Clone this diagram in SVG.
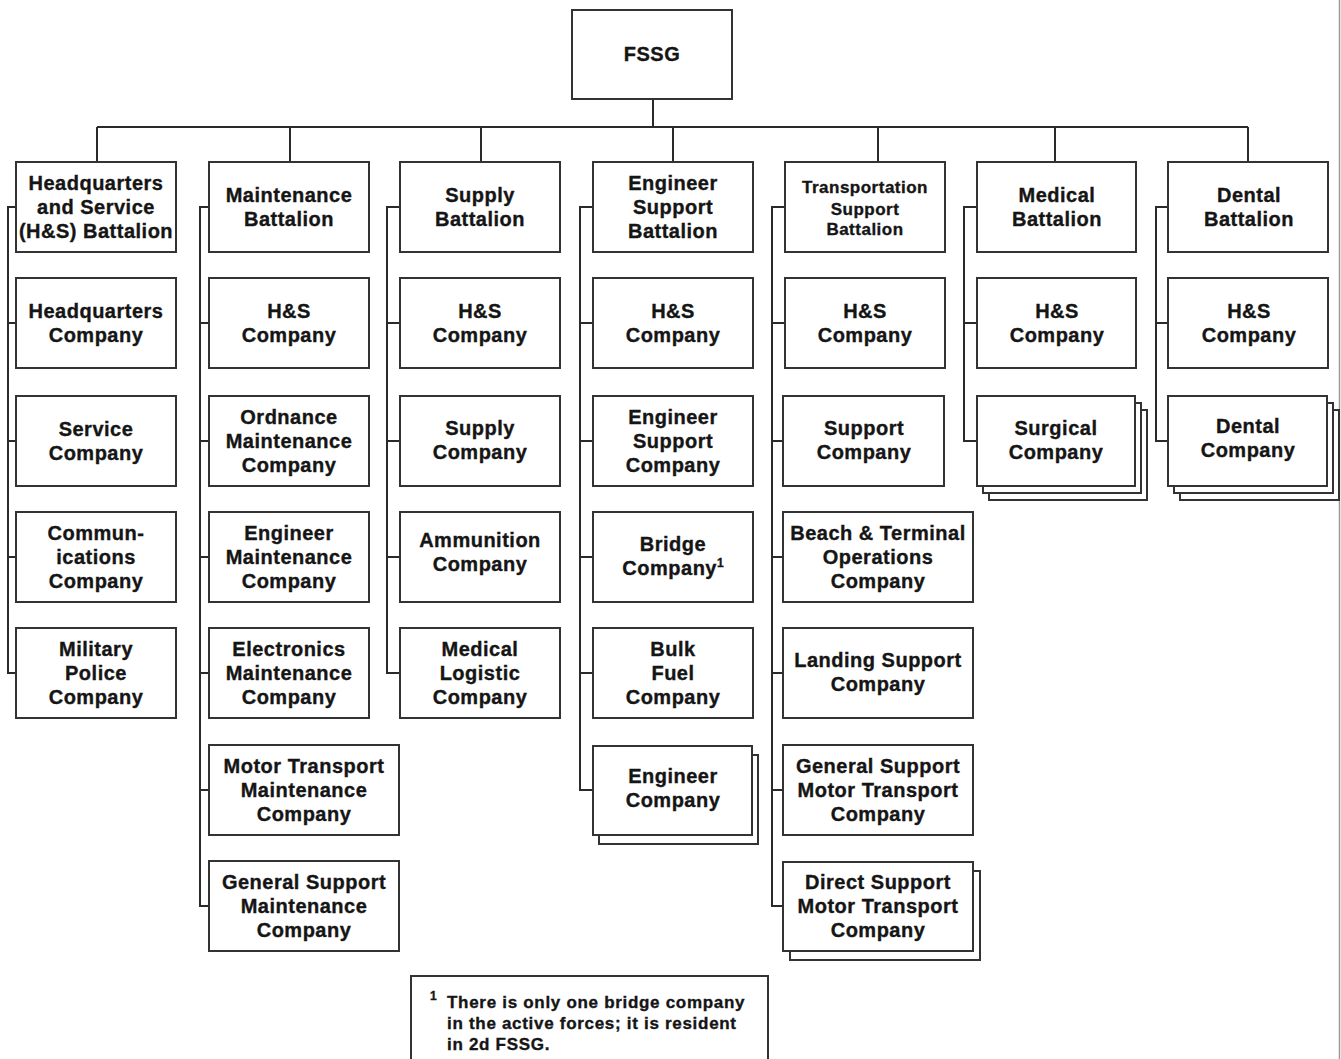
<svg xmlns="http://www.w3.org/2000/svg" width="1341" height="1059" viewBox="0 0 1341 1059">
<style>
.b{fill:#fff;stroke:#333;stroke-width:2}
.c{fill:none;stroke:#2a2a2a;stroke-width:2}
text{font-family:"Liberation Sans",Arial,sans-serif;font-weight:bold;font-size:20px;letter-spacing:0.5px;fill:#151515;stroke:#151515;stroke-width:0.35px;text-anchor:middle}
.s{font-size:17px}
.f{font-size:17px;text-anchor:start;letter-spacing:0.7px}
.sup{font-size:12px;letter-spacing:0}
</style>
<rect width="1341" height="1059" fill="#fff"/>
<line x1="1339.5" y1="0" x2="1339.5" y2="1059" stroke="#999" stroke-width="1.5"/>
<g id="connectors">
<path class="c" d="M653 99V127M97 127H1248M97 127V162M290 127V162M481 127V162M673 127V162M878 127V162M1055 127V162M1248 127V162"/>
<path class="c" d="M16 207H8V673H16M8 323H16M8 441H16M8 557H16"/>
<path class="c" d="M209 207H200V906H209M200 323H209M200 441H209M200 557H209M200 673H209M200 790H209"/>
<path class="c" d="M400 207H387V673H400M387 323H400M387 441H400M387 557H400"/>
<path class="c" d="M593 207H580V790H593M580 323H593M580 441H593M580 557H593M580 673H593"/>
<path class="c" d="M785 207H772V906H783M772 323H785M772 441H783M772 557H783M772 673H783M772 790H783"/>
<path class="c" d="M977 207H964V441H977M964 323H977"/>
<path class="c" d="M1168 207H1156V441H1168M1156 323H1168"/>
</g>
<g id="fssg"><rect class="b" x="572" y="10" width="160" height="89"/><text x="652" y="61">FSSG</text></g>

<g id="hs_bn"><rect class="b" x="16" y="162" width="160" height="90"/><text x="96" y="190">Headquarters</text><text x="96" y="214">and Service</text><text x="96" y="238">(H&amp;S) Battalion</text></g>
<g id="hq_co"><rect class="b" x="16" y="278" width="160" height="90"/><text x="96" y="318">Headquarters</text><text x="96" y="342">Company</text></g>
<g id="svc_co"><rect class="b" x="16" y="396" width="160" height="90"/><text x="96" y="436">Service</text><text x="96" y="460">Company</text></g>
<g id="comm_co"><rect class="b" x="16" y="512" width="160" height="90"/><text x="96" y="540">Commun-</text><text x="96" y="564">ications</text><text x="96" y="588">Company</text></g>
<g id="mp_co"><rect class="b" x="16" y="628" width="160" height="90"/><text x="96" y="656">Military</text><text x="96" y="680">Police</text><text x="96" y="704">Company</text></g>

<g id="maint_bn"><rect class="b" x="209" y="162" width="160" height="90"/><text x="289" y="202">Maintenance</text><text x="289" y="226">Battalion</text></g>
<g id="maint_hs"><rect class="b" x="209" y="278" width="160" height="90"/><text x="289" y="318">H&amp;S</text><text x="289" y="342">Company</text></g>
<g id="ord_co"><rect class="b" x="209" y="396" width="160" height="90"/><text x="289" y="424">Ordnance</text><text x="289" y="448">Maintenance</text><text x="289" y="472">Company</text></g>
<g id="engm_co"><rect class="b" x="209" y="512" width="160" height="90"/><text x="289" y="540">Engineer</text><text x="289" y="564">Maintenance</text><text x="289" y="588">Company</text></g>
<g id="elec_co"><rect class="b" x="209" y="628" width="160" height="90"/><text x="289" y="656">Electronics</text><text x="289" y="680">Maintenance</text><text x="289" y="704">Company</text></g>
<g id="mtm_co"><rect class="b" x="209" y="745" width="190" height="90"/><text x="304" y="773">Motor Transport</text><text x="304" y="797">Maintenance</text><text x="304" y="821">Company</text></g>
<g id="gsm_co"><rect class="b" x="209" y="861" width="190" height="90"/><text x="304" y="889">General Support</text><text x="304" y="913">Maintenance</text><text x="304" y="937">Company</text></g>

<g id="sup_bn"><rect class="b" x="400" y="162" width="160" height="90"/><text x="480" y="202">Supply</text><text x="480" y="226">Battalion</text></g>
<g id="sup_hs"><rect class="b" x="400" y="278" width="160" height="90"/><text x="480" y="318">H&amp;S</text><text x="480" y="342">Company</text></g>
<g id="sup_co"><rect class="b" x="400" y="396" width="160" height="90"/><text x="480" y="435">Supply</text><text x="480" y="459">Company</text></g>
<g id="ammo_co"><rect class="b" x="400" y="512" width="160" height="90"/><text x="480" y="547">Ammunition</text><text x="480" y="571">Company</text></g>
<g id="medlog_co"><rect class="b" x="400" y="628" width="160" height="90"/><text x="480" y="656">Medical</text><text x="480" y="680">Logistic</text><text x="480" y="704">Company</text></g>

<g id="esb"><rect class="b" x="593" y="162" width="160" height="90"/><text x="673" y="190">Engineer</text><text x="673" y="214">Support</text><text x="673" y="238">Battalion</text></g>
<g id="esb_hs"><rect class="b" x="593" y="278" width="160" height="90"/><text x="673" y="318">H&amp;S</text><text x="673" y="342">Company</text></g>
<g id="es_co"><rect class="b" x="593" y="396" width="160" height="90"/><text x="673" y="424">Engineer</text><text x="673" y="448">Support</text><text x="673" y="472">Company</text></g>
<g id="bridge_co"><rect class="b" x="593" y="512" width="160" height="90"/><text x="673" y="551">Bridge</text><text x="673" y="575">Company<tspan class="sup" dy="-8">1</tspan></text></g>
<g id="fuel_co"><rect class="b" x="593" y="628" width="160" height="90"/><text x="673" y="656">Bulk</text><text x="673" y="680">Fuel</text><text x="673" y="704">Company</text></g>
<g id="eng_co"><rect class="b" x="599" y="755" width="159" height="89"/><rect class="b" x="593" y="746" width="159" height="89"/><text x="673" y="783">Engineer</text><text x="673" y="807">Company</text></g>

<g id="tsb"><rect class="b" x="785" y="162" width="160" height="90"/><text class="s" x="865" y="193">Transportation</text><text class="s" x="865" y="215">Support</text><text class="s" x="865" y="235">Battalion</text></g>
<g id="tsb_hs"><rect class="b" x="785" y="278" width="160" height="90"/><text x="865" y="318">H&amp;S</text><text x="865" y="342">Company</text></g>
<g id="spt_co"><rect class="b" x="783" y="396" width="161" height="90"/><text x="864" y="435">Support</text><text x="864" y="459">Company</text></g>
<g id="bto_co"><rect class="b" x="783" y="512" width="190" height="90"/><text x="878" y="540">Beach &amp; Terminal</text><text x="878" y="564">Operations</text><text x="878" y="588">Company</text></g>
<g id="ls_co"><rect class="b" x="783" y="628" width="190" height="90"/><text x="878" y="667">Landing Support</text><text x="878" y="691">Company</text></g>
<g id="gsmt_co"><rect class="b" x="783" y="745" width="190" height="90"/><text x="878" y="773">General Support</text><text x="878" y="797">Motor Transport</text><text x="878" y="821">Company</text></g>
<g id="dsmt_co"><rect class="b" x="790" y="871" width="190" height="89"/><rect class="b" x="783" y="862" width="190" height="89"/><text x="878" y="889">Direct Support</text><text x="878" y="913">Motor Transport</text><text x="878" y="937">Company</text></g>

<g id="med_bn"><rect class="b" x="977" y="162" width="159" height="90"/><text x="1057" y="202">Medical</text><text x="1057" y="226">Battalion</text></g>
<g id="med_hs"><rect class="b" x="977" y="278" width="159" height="90"/><text x="1057" y="318">H&amp;S</text><text x="1057" y="342">Company</text></g>
<g id="surg_co"><rect class="b" x="989" y="410" width="158" height="90"/><rect class="b" x="983" y="403" width="158" height="90"/><rect class="b" x="977" y="396" width="158" height="90"/><text x="1056" y="435">Surgical</text><text x="1056" y="459">Company</text></g>

<g id="dent_bn"><rect class="b" x="1168" y="162" width="160" height="90"/><text x="1249" y="202">Dental</text><text x="1249" y="226">Battalion</text></g>
<g id="dent_hs"><rect class="b" x="1168" y="278" width="160" height="90"/><text x="1249" y="318">H&amp;S</text><text x="1249" y="342">Company</text></g>
<g id="dent_co"><rect class="b" x="1180" y="410" width="159" height="90"/><rect class="b" x="1174" y="403" width="159" height="90"/><rect class="b" x="1168" y="396" width="159" height="90"/><text x="1248" y="433">Dental</text><text x="1248" y="457">Company</text></g>

<g id="footnote"><rect class="b" x="411" y="976" width="357" height="100"/><text class="f sup" x="430" y="1000">1</text><text class="f" x="447" y="1008">There is only one bridge company</text><text class="f" x="447" y="1029">in the active forces; it is resident</text><text class="f" x="447" y="1050">in 2d FSSG.</text></g>
</svg>
